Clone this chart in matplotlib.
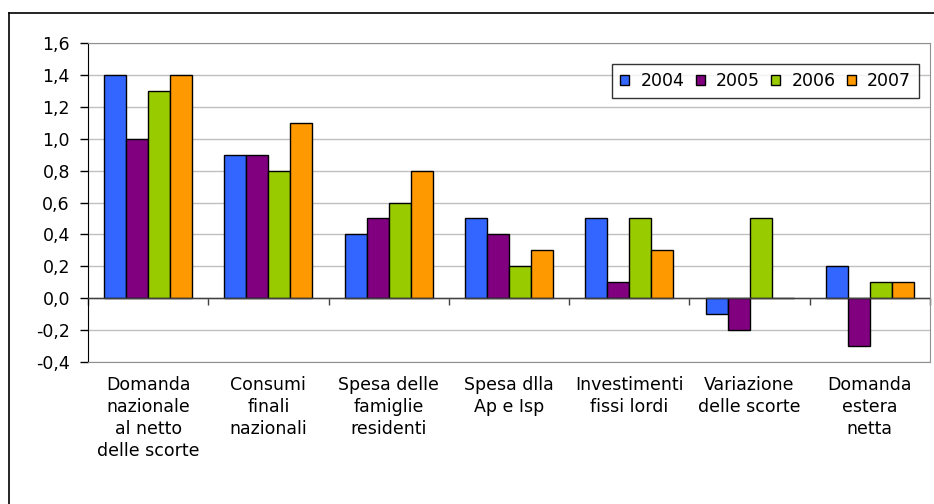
import numpy as np
import matplotlib
matplotlib.use("Agg")
import matplotlib.pyplot as plt
from matplotlib.lines import Line2D
from matplotlib.ticker import FuncFormatter

categories = [
    "Domanda\nnazionale\nal netto\ndelle scorte",
    "Consumi\nfinali\nnazionali",
    "Spesa delle\nfamiglie\nresidenti",
    "Spesa dlla\nAp e Isp",
    "Investimenti\nfissi lordi",
    "Variazione\ndelle scorte",
    "Domanda\nestera\nnetta",
]
years = ["2004", "2005", "2006", "2007"]
v2004 = [1.4, 0.9, 0.4, 0.5, 0.5, -0.1, 0.2]
v2005 = [1.0, 0.9, 0.5, 0.4, 0.1, -0.2, -0.3]
v2006 = [1.3, 0.8, 0.6, 0.2, 0.5, 0.5, 0.1]
v2007 = [1.4, 1.1, 0.8, 0.3, 0.3, 0.0, 0.1]
colors = ["#3366FF", "#800080", "#99CC00", "#FF9900"]
y_ticks = [-0.4, -0.2, 0.0, 0.2, 0.4, 0.6, 0.8, 1.0, 1.2, 1.4, 1.6]

plt.rcParams["font.family"] = ["DejaVu Sans"]
fs = 12.5

fig = plt.figure(figsize=(9.34, 5.04), dpi=100)
W, H = 934, 504
ax = fig.add_axes([88 / W, 1 - 362 / H, (930 - 88) / W, (362 - 43) / H])

x = np.arange(len(categories))
width = 0.183
series = [v2004, v2005, v2006, v2007]
for i, (vals, yr, c) in enumerate(zip(series, years, colors)):
    ax.bar(x + (i - 1.5) * width, vals, width, color=c, edgecolor="black",
           linewidth=1.0, label=yr, zorder=3)

ax.set_xlim(-0.5, len(categories) - 0.5)
ax.set_ylim(-0.4, 1.6)
ax.set_yticks(y_ticks)
ax.yaxis.set_major_formatter(FuncFormatter(lambda v, p: f"{v:.1f}".replace(".", ",")))
ax.yaxis.grid(True, color="#C0C0C0", linewidth=1.0, zorder=0)
ax.set_axisbelow(True)
ax.tick_params(axis="y", direction="out", length=6, width=1, color="black",
               labelsize=fs, pad=7)

ax.set_xticks(x)
ax.set_xticklabels(categories, fontsize=fs, linespacing=1.3)
ax.tick_params(axis="x", length=0, pad=10)

for s in ["top", "right", "bottom"]:
    ax.spines[s].set_color("#909090")
ax.spines["left"].set_color("black")

# zero axis with category separators
sec = ax.secondary_xaxis(0.2)
sec.set_xticks(np.arange(len(categories) + 1) - 0.5)
sec.set_xticklabels([])
sec.tick_params(direction="out", length=5, width=1, color="#404040")
sec.spines["bottom"].set_color("#404040")
ax.axhline(0, color="#404040", linewidth=1.0, zorder=4)

leg = ax.legend(loc="upper right", bbox_to_anchor=(0.987, 0.934), ncol=4,
                fontsize=fs, frameon=True, fancybox=False, borderaxespad=0,
                handlelength=0.52, handleheight=0.52, handletextpad=0.65,
                columnspacing=0.65, borderpad=0.45)
leg.get_frame().set_edgecolor("black")
leg.get_frame().set_linewidth(1.0)
for h in leg.legend_handles:
    h.set_linewidth(1.0)

# outer chart frame
fig.add_artist(Line2D([9 / W, 1.0], [1 - 13 / H, 1 - 13 / H], color="black", linewidth=1.2))
fig.add_artist(Line2D([9 / W, 9 / W], [1 - 13 / H, 0.0], color="black", linewidth=1.2))

fig.savefig("out.png", dpi=100)
